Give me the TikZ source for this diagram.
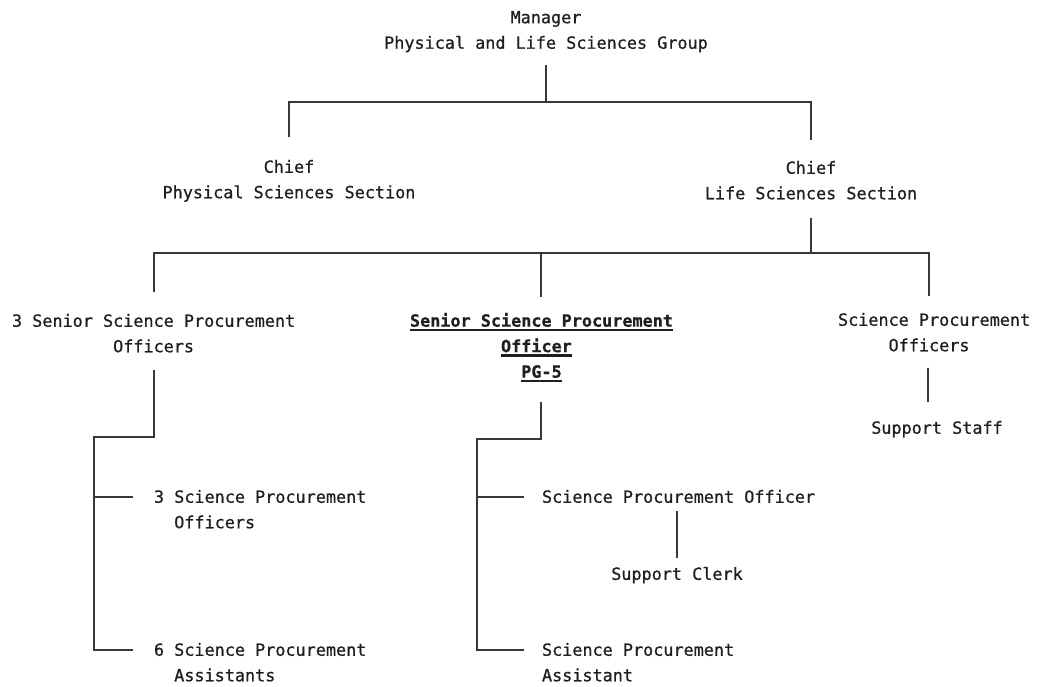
\documentclass[tikz,border=0pt]{standalone}
\usepackage{fontspec}
\newfontfamily\tw{DejaVu Sans Mono}[RawFeature={embolden=0.7}]
\usetikzlibrary{calc}
\newcommand\thul[1]{\setbox0\hbox{#1}\rlap{\rule[-4.5bp]{\wd0}{2.4bp}}\box0}
\begin{document}
\begin{tikzpicture}[x=1bp,y=1bp,
  lbl/.style={font=\tw\fontsize{16.8bp}{25.5bp}\selectfont, text=black!88, inner sep=0pt, outer sep=0pt},
  conn/.style={line width=2bp, draw=black!78}]
\useasboundingbox (0,0) rectangle (1040,-687);
\fill[white] (0,0) rectangle (1040,-687);

% nodes
\node[lbl, align=center, anchor=north] (mgr) at (546,-11) {Manager\\Physical and Life Sciences Group};
\node[lbl, align=center, anchor=north] (chP) at (289,-160) {Chief\\Physical Sciences Section};
\node[lbl, align=center, anchor=north] (chL) at (811,-161) {Chief\\Life Sciences Section};
\node[lbl, align=left, anchor=north west] (sA) at (12,-314) {3 Senior Science Procurement\\\phantom{3 Senior S}Officers};
\node[lbl, align=left, anchor=north west, font=\tw\bfseries\fontsize{16.8bp}{25.5bp}\selectfont] (sB) at (410,-313) {\thul{Senior Science Procurement}\\\phantom{Senior Sc}\thul{Officer}\\\phantom{Senior Scie}\thul{PG-5}};
\node[lbl, align=left, anchor=north west] (sC) at (838,-313) {Science Procurement\\\phantom{Scien}Officers};
\node[lbl, anchor=north] (sD) at (937,-421) {Support Staff};
\node[lbl, align=left, anchor=north west] (sE) at (154,-490) {3 Science Procurement\\\phantom{3 }Officers};
\node[lbl, align=left, anchor=north west] (sF) at (154,-643) {6 Science Procurement\\\phantom{6 }Assistants};
\node[lbl, anchor=north west] (sG) at (542,-490) {Science Procurement Officer};
\node[lbl, anchor=north] (sH) at (677,-567) {Support Clerk};
\node[lbl, align=left, anchor=north west] (sI) at (542,-643) {Science Procurement\\Assistant};

% helper coordinates
\coordinate (bar1) at (0,-102);
\coordinate (bar2) at (0,-253);
\coordinate (sCx) at (929,0);
\coordinate (eA) at (94,-437);
\coordinate (eB) at (477,-439);

% manager -> chiefs
\draw[conn] ($(mgr.south)+(0,-13)$) -- (mgr.south |- bar1);
\draw[conn] ($(chP.north)+(0,23)$) -- (chP.north |- bar1) -- (chL.north |- bar1) -- ($(chL.north)+(0,21)$);

% life sciences chief -> officers
\draw[conn] ($(chL.south)+(0,-18)$) -- (chL.south |- bar2);
\draw[conn] ($(sA.north)+(0,22)$) -- (sA.north |- bar2) -- (sCx |- bar2) -- ($(sCx |- sC.north)+(0,17)$);
\draw[conn] (sB.north |- bar2) -- ($(sB.north)+(0,16)$);

% science procurement officers -> support staff
\draw[conn] ($(sCx |- sC.south)+(-1,-16)$) -- ($(sCx |- sD.north)+(-1,19)$);

% left group
\draw[conn] ($(sA.south)+(0,-17)$) |- (eA) -- (eA |- {$(sF.north west)+(-21,-7)$}) -- ($(sF.north west)+(-21,-7)$);
\draw[conn] (eA |- {$(sE.north west)+(-21,-7)$}) -- ($(sE.north west)+(-21,-7)$);

% middle group
\draw[conn] ($(sB.south)+(0,-20)$) |- (eB) -- (eB |- {$(sI.north west)+(-18,-7)$}) -- ($(sI.north west)+(-18,-7)$);
\draw[conn] (eB |- sG.west) -- ($(sG.west)+(-18,0)$);
\draw[conn] ($(sH.north |- sG.south)+(0,-8)$) -- ($(sH.north)+(0,9)$);
\end{tikzpicture}
\end{document}
